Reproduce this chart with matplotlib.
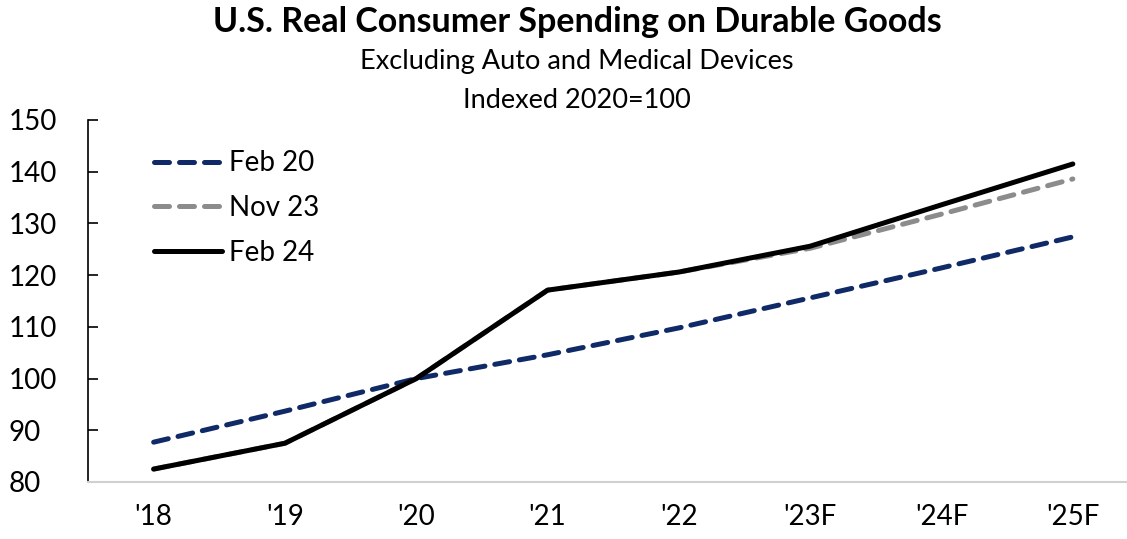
import matplotlib
matplotlib.use("Agg")
import matplotlib.pyplot as plt
import matplotlib.transforms as mtransforms

years = ["'18", "'19", "'20", "'21", "'22", "'23F", "'24F", "'25F"]
feb20 = [87.7, 93.7, 100.0, 104.6, 109.8, 115.6, 121.4, 127.4]
nov23 = [82.5, 87.5, 100.0, 117.1, 120.6, 125.2, 131.8, 138.6]
feb24 = [82.5, 87.5, 100.0, 117.1, 120.6, 125.6, 133.6, 141.5]
yticks = [80, 90, 100, 110, 120, 130, 140, 150]

plt.rcParams['font.family'] = ['Lato', 'DejaVu Sans']

fig = plt.figure(figsize=(11.27, 5.39), dpi=100)
ax = fig.add_axes([88/1127, 1-482/539, 1-88/1127, (482-120)/539])

x = list(range(len(years)))
lw = 3.6
ax.plot(x, feb20, color='#0f2a66', lw=lw, dashes=(3, 2), dash_capstyle='round',
        label='Feb 20', zorder=3)
ax.plot(x, nov23, color='#8c8c8c', lw=lw, dashes=(3, 2), dash_capstyle='round',
        label='Nov 23', zorder=2)
ax.plot(x, feb24, color='#000000', lw=lw, solid_capstyle='round',
        solid_joinstyle='round', label='Feb 24', zorder=4)

ax.set_xlim(-0.5, (1127-153)/131.4)
ax.set_ylim(80, 150)
ax.set_yticks(yticks)
ax.set_xticks(x)
ax.set_xticklabels(years)
for s in ['top', 'right']:
    ax.spines[s].set_visible(False)
ax.spines['left'].set_color('black')
ax.spines['left'].set_linewidth(1.2)
ax.spines['bottom'].set_color('#d0d0d0')
ax.spines['bottom'].set_linewidth(1.5)
ax.tick_params(axis='y', direction='in', length=7, width=1.2, labelsize=20, pad=0)
ax.tick_params(axis='x', length=0, labelsize=20, pad=16)
for lab in ax.get_yticklabels():
    lab.set_horizontalalignment('left')
    lab.set_transform(mtransforms.blended_transform_factory(fig.transFigure, ax.transData))
    lab.set_x(9/1127)

leg = ax.legend(loc='upper left', bbox_to_anchor=(0.045, 0.97), frameon=False,
                fontsize=20, handlelength=2.45, handletextpad=0.25, labelspacing=0.68,
                borderpad=0.2)

fig.text(577/1127, 1-22/539, 'U.S. Real Consumer Spending on Durable Goods',
         ha='center', va='center', fontsize=24.5, fontweight='bold')
fig.text(577/1127, 1-62/539, 'Excluding Auto and Medical Devices',
         ha='center', va='center', fontsize=19.5)
fig.text(577/1127, 1-100/539, 'Indexed 2020=100',
         ha='center', va='center', fontsize=19.5)

fig.savefig('out.png', dpi=100)
